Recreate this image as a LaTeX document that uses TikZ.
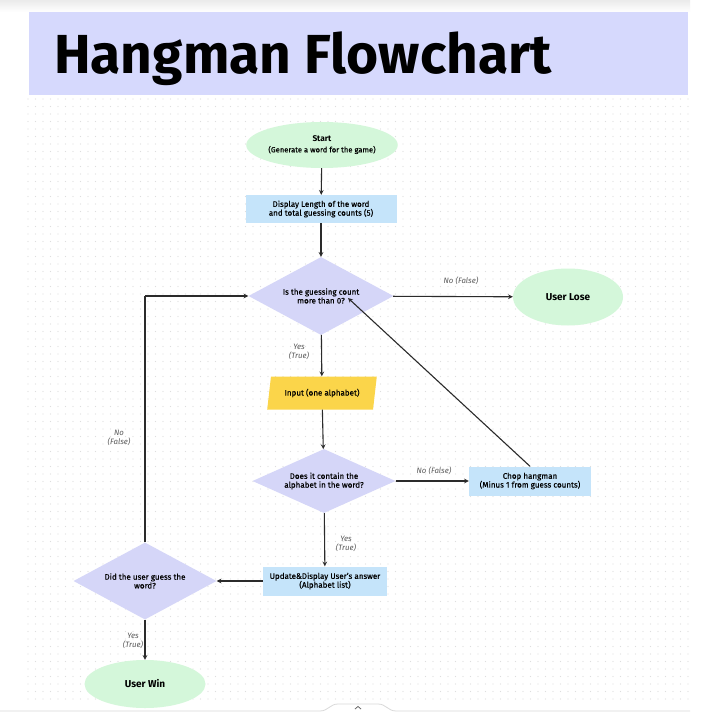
\documentclass[tikz,border=0pt]{standalone}
\usepackage{fontspec}
\setmainfont{Fira Sans}[UprightFeatures={FakeBold=0.35}]
\usepackage{tikz}
\usetikzlibrary{arrows,shapes.geometric,positioning,calc}

\definecolor{headband}{HTML}{D6D9FD}
\definecolor{lilac}{HTML}{D5D6F8}
\definecolor{mint}{HTML}{D4F7DA}
\definecolor{skyblue}{HTML}{C5E4FA}
\definecolor{amber}{HTML}{FBD54A}
\definecolor{linegray}{HTML}{2B2B2B}

\begin{document}
\begin{tikzpicture}[x=1pt,y=-1pt,
  terminal/.style={ellipse,fill=mint,inner sep=0pt,align=center,font=\fontsize{8.3}{9.5}\selectfont},
  process/.style={rectangle,fill=skyblue,inner sep=0pt,align=center,font=\fontsize{8}{8.8}\selectfont},
  decision/.style={diamond,aspect=2,fill=lilac,inner sep=0pt,align=center,font=\fontsize{8}{8.8}\selectfont},
  inputbox/.style={trapezium,trapezium left angle=72,trapezium right angle=108,trapezium stretches=true,fill=amber,inner sep=0pt,font=\fontsize{8}{8.8}\selectfont},
  edge/.style={line width=1.1pt,draw=linegray,->,>=stealth},
  plain/.style={line width=1.1pt,draw=linegray},
  answer/.style={align=center,text=black!65,font=\fontsize{7.8}{9.2}\selectfont\itshape},
  dotrow/.style={draw=black!13,line width=1.3pt,line cap=round,dash pattern=on 0pt off 7.5pt}]

\useasboundingbox (0,0) rectangle (705,714);
\fill[white] (0,0) rectangle (705,714);

% dotted board
\foreach \y in {99,106.5,...,705} \draw[dotrow] (28,\y) -- (689,\y);
\shade[top color=black!8,bottom color=white] (0,0) rectangle (690,12);
\draw[black!15,line width=0.8pt] (0,711) -- (320,711) .. controls (328,711) and (330,704) .. (338,704) -- (378,704) .. controls (386,704) and (388,711) .. (396,711) -- (690,711);
\draw[black!60,line width=0.8pt] (355,709) -- (358,706.5) -- (361,709);

% title
\fill[headband] (29,12) rectangle (688,95);
\node(title)[anchor=base west,inner sep=0pt,font=\fontsize{55}{60}\selectfont\bfseries] at (54,74) {Hangman Flowchart};

% nodes
\node(start)[terminal,minimum width=150pt,minimum height=46pt] at (322,145) {\textbf{Start}\\[1pt]{\fontsize{7.6}{8.5}\selectfont(Generate a word for the game)}};
\node(show)[process,minimum width=151pt,minimum height=28pt] at (321,209) {Display Length of the word\\and total guessing counts (5)};
\node(count)[decision,minimum width=145pt,minimum height=78pt] at (321,296) {Is the guessing count\\more than 0?};
\node(lose)[terminal,minimum width=110pt,minimum height=57pt,font=\fontsize{10}{11}\selectfont\bfseries] at (568,297) {User Lose};
\node(guess)[inputbox,minimum width=110pt,minimum height=33pt] at (322,393) {Input (one alphabet)};
\node(hit)[decision,minimum width=143pt,minimum height=64pt] at (324,481) {Does it contain the\\alphabet in the word?};
\node(chop)[process,minimum width=122pt,minimum height=29pt] at (530,481) {Chop hangman\\(Minus 1 from guess counts)};
\node(update)[process,minimum width=124pt,minimum height=29pt] at (325,581) {Update\&Display User's answer\\(Alphabet list)};
\node(solved)[decision,minimum width=143pt,minimum height=77pt] at (145,581) {Did the user guess the\\word?};
\node(win)[terminal,minimum width=121pt,minimum height=48pt,font=\fontsize{10}{11}\selectfont\bfseries] at (145,684) {User Win};

\coordinate(back) at (348,298);
\coordinate(turn) at (145,296);

% connectors
\draw [edge] (start) to (show);
\draw [edge] (show) to (count);
\draw [edge] (count) to (lose);
\draw [edge] (count) to (guess);
\draw [edge] (guess) to (hit);
\draw [edge] (hit) to (chop);
\draw [edge] (chop.north) to (back);
\draw [edge] (hit) to (update);
\draw [edge] (update) to (solved);
\draw [plain] (solved.north) to (turn);
\draw [edge] (turn) to (count.west);
\draw [edge] (solved) to (win);

% answers
\node(nolose)[answer] at (461,281) {No (False)};
\node(yescount)[answer] at (299,352) {Yes\\(True)};
\node(nohit)[answer] at (434,471) {No (False)};
\node(yeshit)[answer] at (346,544) {Yes\\(True)};
\node(nosolved)[answer] at (119,438) {No\\(False)};
\node(yessolved)[answer] at (133,641) {Yes\\(True)};
\end{tikzpicture}
\end{document}
